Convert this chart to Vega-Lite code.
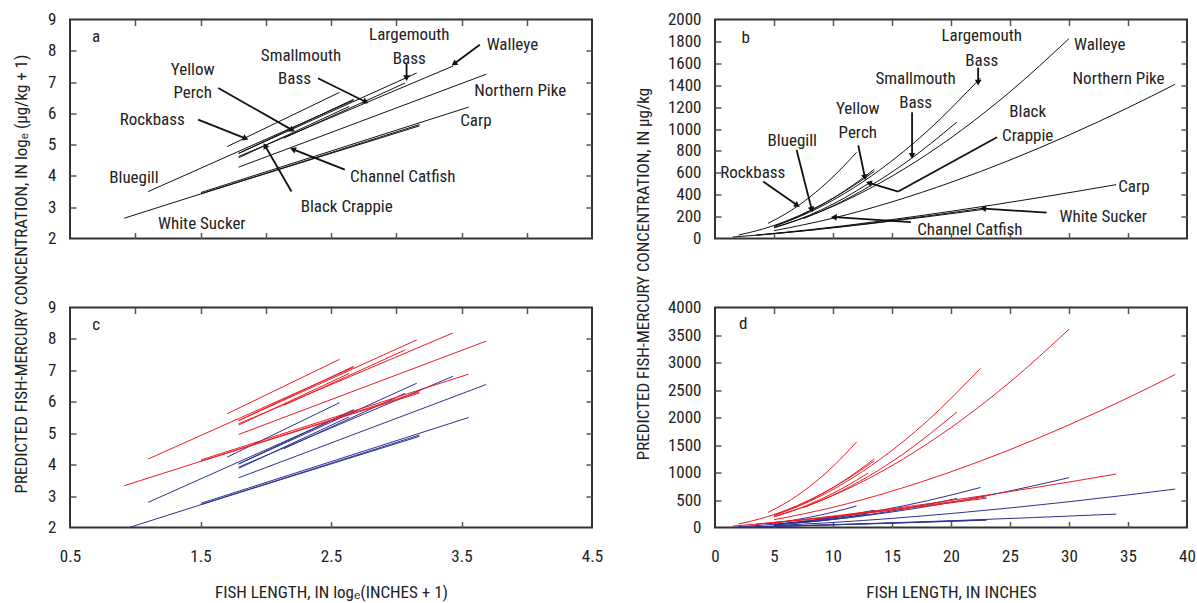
{
"$schema":"https://vega.github.io/schema/vega-lite/v6.json",
"padding":{"left":10,"top":9.5,"right":5,"bottom":5},
"config":{
 "font":"Liberation Sans Narrow, Roboto Condensed, Liberation Sans, sans-serif",
 "view":{"stroke":"#333","strokeWidth":2},
 "axis":{"labelFontSize":17,"labelColor":"#222","titleFontSize":17,"titleFontWeight":"normal","titleColor":"#222","grid":false,"domain":false,"tickColor":"#555","tickWidth":1.5,"labelFlush":false,"labelOverlap":false},
 "text":{"fontSize":17,"color":"#222"}
},
"datasets":{
 "aLines":[{"sp":"RB","x":1.705,"y":4.94},{"sp":"RB","x":2.565,"y":6.67},{"sp":"BG","x":1.099,"y":3.5},{"sp":"BG","x":2.674,"y":6.42},{"sp":"YP","x":1.792,"y":4.72},{"sp":"YP","x":2.674,"y":6.45},{"sp":"BC","x":1.792,"y":4.58},{"sp":"BC","x":2.639,"y":6.22},{"sp":"SM","x":2.14,"y":5.21},{"sp":"SM","x":3.068,"y":6.97},{"sp":"LM","x":1.792,"y":4.72},{"sp":"LM","x":3.157,"y":7.29},{"sp":"WE","x":1.792,"y":4.62},{"sp":"WE","x":3.434,"y":7.51},{"sp":"NP","x":1.792,"y":4.28},{"sp":"NP","x":3.689,"y":7.25},{"sp":"CP","x":1.504,"y":3.47},{"sp":"CP","x":3.555,"y":6.2},{"sp":"WS","x":0.916,"y":2.65},{"sp":"WS","x":3.178,"y":5.64},{"sp":"CC","x":1.504,"y":3.43},{"sp":"CC","x":3.178,"y":5.6}],
 "cLines":[
  {"sp":"RB","g":"b","x":1.705,"y":4.24},{"sp":"RB","g":"b","x":2.565,"y":5.97},
  {"sp":"BG","g":"b","x":1.099,"y":2.8},{"sp":"BG","g":"b","x":2.674,"y":5.72},
  {"sp":"YP","g":"b","x":1.792,"y":4.02},{"sp":"YP","g":"b","x":2.674,"y":5.75},
  {"sp":"BC","g":"b","x":1.792,"y":3.88},{"sp":"BC","g":"b","x":2.639,"y":5.52},
  {"sp":"SM","g":"b","x":2.14,"y":4.51},{"sp":"SM","g":"b","x":3.068,"y":6.27},
  {"sp":"LM","g":"b","x":1.792,"y":4.02},{"sp":"LM","g":"b","x":3.157,"y":6.59},
  {"sp":"WE","g":"b","x":1.792,"y":3.92},{"sp":"WE","g":"b","x":3.434,"y":6.81},
  {"sp":"NP","g":"b","x":1.792,"y":3.58},{"sp":"NP","g":"b","x":3.689,"y":6.55},
  {"sp":"CP","g":"b","x":1.504,"y":2.77},{"sp":"CP","g":"b","x":3.555,"y":5.5},
  {"sp":"WS","g":"b","x":0.916,"y":1.95},{"sp":"WS","g":"b","x":3.178,"y":4.94},
  {"sp":"CC","g":"b","x":1.504,"y":2.73},{"sp":"CC","g":"b","x":3.178,"y":4.9},
  {"sp":"RB","g":"r","x":1.705,"y":5.62},{"sp":"RB","g":"r","x":2.565,"y":7.35},
  {"sp":"BG","g":"r","x":1.099,"y":4.18},{"sp":"BG","g":"r","x":2.674,"y":7.1},
  {"sp":"YP","g":"r","x":1.792,"y":5.4},{"sp":"YP","g":"r","x":2.674,"y":7.13},
  {"sp":"BC","g":"r","x":1.792,"y":5.26},{"sp":"BC","g":"r","x":2.639,"y":6.9},
  {"sp":"SM","g":"r","x":2.14,"y":5.89},{"sp":"SM","g":"r","x":3.068,"y":7.65},
  {"sp":"LM","g":"r","x":1.792,"y":5.4},{"sp":"LM","g":"r","x":3.157,"y":7.97},
  {"sp":"WE","g":"r","x":1.792,"y":5.3},{"sp":"WE","g":"r","x":3.434,"y":8.19},
  {"sp":"NP","g":"r","x":1.792,"y":4.96},{"sp":"NP","g":"r","x":3.689,"y":7.93},
  {"sp":"CP","g":"r","x":1.504,"y":4.15},{"sp":"CP","g":"r","x":3.555,"y":6.88},
  {"sp":"WS","g":"r","x":0.916,"y":3.33},{"sp":"WS","g":"r","x":3.178,"y":6.32},
  {"sp":"CC","g":"r","x":1.504,"y":4.11},{"sp":"CC","g":"r","x":3.178,"y":6.28}],
 "bCurves":[
  {"sp":"RB","L":4.5,"v":138.8},{"sp":"RB","L":6,"v":226},{"sp":"RB","L":8,"v":375.5},{"sp":"RB","L":10,"v":563},{"sp":"RB","L":12,"v":787},
  {"sp":"BG","L":2,"v":32.1},{"sp":"BG","L":4,"v":84.4},{"sp":"BG","L":6,"v":158.3},{"sp":"BG","L":8,"v":252.9},{"sp":"BG","L":10,"v":367.3},{"sp":"BG","L":12,"v":500.9},{"sp":"BG","L":13.5,"v":613.6},
  {"sp":"YP","L":5,"v":111.2},{"sp":"YP","L":7,"v":196.2},{"sp":"YP","L":9,"v":304.5},{"sp":"YP","L":11,"v":436},{"sp":"YP","L":13.5,"v":632.3},
  {"sp":"BC","L":5,"v":96.5},{"sp":"BC","L":7,"v":169.2},{"sp":"BC","L":9,"v":261.2},{"sp":"BC","L":11,"v":372.1},{"sp":"BC","L":13,"v":501.7},
  {"sp":"SM","L":7.5,"v":182.1},{"sp":"SM","L":10,"v":297.6},{"sp":"SM","L":13,"v":471},{"sp":"SM","L":16,"v":681},{"sp":"SM","L":20.5,"v":1063.2},
  {"sp":"LM","L":5,"v":111.2},{"sp":"LM","L":8,"v":239.6},{"sp":"LM","L":11,"v":412.6},{"sp":"LM","L":14,"v":628.6},{"sp":"LM","L":18,"v":981.4},{"sp":"LM","L":22.5,"v":1466.1},
  {"sp":"WE","L":5,"v":100.5},{"sp":"WE","L":9,"v":248.4},{"sp":"WE","L":13,"v":449.8},{"sp":"WE","L":17,"v":701},{"sp":"WE","L":21,"v":998.2},{"sp":"WE","L":25,"v":1339.7},{"sp":"WE","L":30,"v":1825.2},
  {"sp":"NP","L":5,"v":71.2},{"sp":"NP","L":10,"v":185.6},{"sp":"NP","L":15,"v":334.6},{"sp":"NP","L":20,"v":512.9},{"sp":"NP","L":25,"v":716.7},{"sp":"NP","L":30,"v":944.8},{"sp":"NP","L":35,"v":1194.1},{"sp":"NP","L":39,"v":1408.5},
  {"sp":"CP","L":3.5,"v":31.1},{"sp":"CP","L":8,"v":79.8},{"sp":"CP","L":14,"v":158.6},{"sp":"CP","L":20,"v":248.6},{"sp":"CP","L":27,"v":365.1},{"sp":"CP","L":34,"v":491.8},
  {"sp":"WS","L":1.5,"v":13.2},{"sp":"WS","L":4,"v":34.4},{"sp":"WS","L":8,"v":75.9},{"sp":"WS","L":12,"v":124.1},{"sp":"WS","L":17,"v":191.5},{"sp":"WS","L":23,"v":280.5},
  {"sp":"CC","L":3.5,"v":29.9},{"sp":"CC","L":8,"v":74.8},{"sp":"CC","L":13,"v":133.4},{"sp":"CC","L":18,"v":198.7},{"sp":"CC","L":23,"v":269.4}],
 "dCurves":[
  {"sp":"RB","g":"b","L":4.5,"v":68.4},{"sp":"RB","g":"b","L":6,"v":111.7},{"sp":"RB","g":"b","L":8,"v":186},{"sp":"RB","g":"b","L":10,"v":279},{"sp":"RB","g":"b","L":12,"v":390.5},
  {"sp":"BG","g":"b","L":2,"v":15.45},{"sp":"BG","g":"b","L":4,"v":41.4},{"sp":"BG","g":"b","L":6,"v":78.1},{"sp":"BG","g":"b","L":8,"v":125.1},{"sp":"BG","g":"b","L":10,"v":181.9},{"sp":"BG","g":"b","L":12,"v":248.2},{"sp":"BG","g":"b","L":13.5,"v":304.2},
  {"sp":"YP","g":"b","L":5,"v":54.7},{"sp":"YP","g":"b","L":7,"v":96.9},{"sp":"YP","g":"b","L":9,"v":150.7},{"sp":"YP","g":"b","L":11,"v":216},{"sp":"YP","g":"b","L":13.5,"v":313.5},
  {"sp":"BC","g":"b","L":5,"v":47.4},{"sp":"BC","g":"b","L":7,"v":83.5},{"sp":"BC","g":"b","L":9,"v":129.2},{"sp":"BC","g":"b","L":11,"v":184.3},{"sp":"BC","g":"b","L":13,"v":248.6},
  {"sp":"SM","g":"b","L":7.5,"v":89.9},{"sp":"SM","g":"b","L":10,"v":147.3},{"sp":"SM","g":"b","L":13,"v":233.4},{"sp":"SM","g":"b","L":16,"v":337.7},{"sp":"SM","g":"b","L":20.5,"v":527.5},
  {"sp":"LM","g":"b","L":5,"v":54.7},{"sp":"LM","g":"b","L":8,"v":118.5},{"sp":"LM","g":"b","L":11,"v":204.4},{"sp":"LM","g":"b","L":14,"v":311.7},{"sp":"LM","g":"b","L":18,"v":486.9},{"sp":"LM","g":"b","L":22.5,"v":727.6},
  {"sp":"WE","g":"b","L":5,"v":49.4},{"sp":"WE","g":"b","L":9,"v":122.9},{"sp":"WE","g":"b","L":13,"v":222.9},{"sp":"WE","g":"b","L":17,"v":347.6},{"sp":"WE","g":"b","L":21,"v":495.2},{"sp":"WE","g":"b","L":25,"v":664.8},{"sp":"WE","g":"b","L":30,"v":905.9},
  {"sp":"NP","g":"b","L":5,"v":34.9},{"sp":"NP","g":"b","L":10,"v":91.7},{"sp":"NP","g":"b","L":15,"v":165.7},{"sp":"NP","g":"b","L":20,"v":254.2},{"sp":"NP","g":"b","L":25,"v":355.4},{"sp":"NP","g":"b","L":30,"v":468.7},{"sp":"NP","g":"b","L":35,"v":592.5},{"sp":"NP","g":"b","L":39,"v":699},
  {"sp":"CP","g":"b","L":3.5,"v":15},{"sp":"CP","g":"b","L":8,"v":39.1},{"sp":"CP","g":"b","L":14,"v":78.3},{"sp":"CP","g":"b","L":20,"v":123},{"sp":"CP","g":"b","L":27,"v":180.8},{"sp":"CP","g":"b","L":34,"v":243.7},
  {"sp":"WS","g":"b","L":1.5,"v":6},{"sp":"WS","g":"b","L":4,"v":16.6},{"sp":"WS","g":"b","L":8,"v":37.2},{"sp":"WS","g":"b","L":12,"v":61.1},{"sp":"WS","g":"b","L":17,"v":94.6},{"sp":"WS","g":"b","L":23,"v":138.8},
  {"sp":"CC","g":"b","L":3.5,"v":14.3},{"sp":"CC","g":"b","L":8,"v":36.6},{"sp":"CC","g":"b","L":13,"v":65.7},{"sp":"CC","g":"b","L":18,"v":98.2},{"sp":"CC","g":"b","L":23,"v":133.3},
  {"sp":"RB","g":"r","L":4.5,"v":275},{"sp":"RB","g":"r","L":6,"v":447},{"sp":"RB","g":"r","L":8,"v":742},{"sp":"RB","g":"r","L":10,"v":1111},{"sp":"RB","g":"r","L":12,"v":1555},
  {"sp":"BG","g":"r","L":2,"v":64.4},{"sp":"BG","g":"r","L":4,"v":167.5},{"sp":"BG","g":"r","L":6,"v":313.5},{"sp":"BG","g":"r","L":8,"v":500.2},{"sp":"BG","g":"r","L":10,"v":726},{"sp":"BG","g":"r","L":12,"v":989.8},{"sp":"BG","g":"r","L":13.5,"v":1212},
  {"sp":"YP","g":"r","L":5,"v":220.4},{"sp":"YP","g":"r","L":7,"v":388.2},{"sp":"YP","g":"r","L":9,"v":602.1},{"sp":"YP","g":"r","L":11,"v":861.6},{"sp":"YP","g":"r","L":13.5,"v":1249.1},
  {"sp":"BC","g":"r","L":5,"v":191.5},{"sp":"BC","g":"r","L":7,"v":335},{"sp":"BC","g":"r","L":9,"v":516.6},{"sp":"BC","g":"r","L":11,"v":735.5},{"sp":"BC","g":"r","L":13,"v":991.3},
  {"sp":"SM","g":"r","L":7.5,"v":360.4},{"sp":"SM","g":"r","L":10,"v":588.4},{"sp":"SM","g":"r","L":13,"v":930.7},{"sp":"SM","g":"r","L":16,"v":1345.3},{"sp":"SM","g":"r","L":20.5,"v":2099.7},
  {"sp":"LM","g":"r","L":5,"v":220.4},{"sp":"LM","g":"r","L":8,"v":473.9},{"sp":"LM","g":"r","L":11,"v":815.4},{"sp":"LM","g":"r","L":14,"v":1241.8},{"sp":"LM","g":"r","L":18,"v":1938.3},{"sp":"LM","g":"r","L":22.5,"v":2895.1},
  {"sp":"WE","g":"r","L":5,"v":199.3},{"sp":"WE","g":"r","L":9,"v":491.3},{"sp":"WE","g":"r","L":13,"v":888.9},{"sp":"WE","g":"r","L":17,"v":1384.7},{"sp":"WE","g":"r","L":21,"v":1971.4},{"sp":"WE","g":"r","L":25,"v":2645.5},{"sp":"WE","g":"r","L":30,"v":3603.9},
  {"sp":"NP","g":"r","L":5,"v":141.6},{"sp":"NP","g":"r","L":10,"v":367.3},{"sp":"NP","g":"r","L":15,"v":661.5},{"sp":"NP","g":"r","L":20,"v":1013.4},{"sp":"NP","g":"r","L":25,"v":1415.7},{"sp":"NP","g":"r","L":30,"v":1866},{"sp":"NP","g":"r","L":35,"v":2358.1},{"sp":"NP","g":"r","L":39,"v":2781.3},
  {"sp":"CP","g":"r","L":3.5,"v":62.4},{"sp":"CP","g":"r","L":8,"v":158.6},{"sp":"CP","g":"r","L":14,"v":314.1},{"sp":"CP","g":"r","L":20,"v":491.7},{"sp":"CP","g":"r","L":27,"v":721.7},{"sp":"CP","g":"r","L":34,"v":971.8},
  {"sp":"WS","g":"r","L":1.5,"v":26.9},{"sp":"WS","g":"r","L":4,"v":68.8},{"sp":"WS","g":"r","L":8,"v":150.9},{"sp":"WS","g":"r","L":12,"v":245.9},{"sp":"WS","g":"r","L":17,"v":379},{"sp":"WS","g":"r","L":23,"v":554.7},
  {"sp":"CC","g":"r","L":3.5,"v":60},{"sp":"CC","g":"r","L":8,"v":148.6},{"sp":"CC","g":"r","L":13,"v":264.3},{"sp":"CC","g":"r","L":18,"v":393.2},{"sp":"CC","g":"r","L":23,"v":532.8}],
 "aText":[{"t":"a","x":0.7,"y":8.45},{"t":"Largemouth","x":3.1,"y":8.52},{"t":"Bass","x":3.1,"y":7.74},{"t":"Walleye","x":3.89,"y":8.17},{"t":"Smallmouth","x":2.27,"y":7.83},{"t":"Bass","x":2.22,"y":7.1},{"t":"Yellow","x":1.44,"y":7.38},{"t":"Perch","x":1.44,"y":6.65},{"t":"Rockbass","x":1.13,"y":5.79},{"t":"Northern Pike","x":3.95,"y":6.71},{"t":"Carp","x":3.61,"y":5.75},{"t":"Channel Catfish","x":3.05,"y":3.95},{"t":"Black Crappie","x":2.62,"y":3.01},{"t":"Bluegill","x":0.99,"y":3.93},{"t":"White Sucker","x":1.51,"y":2.45}],
 "aArrows":[{"x":3.64,"y":8.19,"x2":3.449,"y2":7.6,"ang":-126.6,"head":true},{"x":3.079,"y":7.6,"x2":3.079,"y2":7.16,"ang":180,"head":true},{"x":2.4,"y":7.12,"x2":2.76,"y2":6.38,"ang":116.3,"head":true},{"x":1.636,"y":6.81,"x2":2.197,"y2":5.48,"ang":119.6,"head":true},{"x":1.482,"y":5.8,"x2":1.839,"y2":5.21,"ang":111.7,"head":true},{"x":2.197,"y":3.5,"x2":1.998,"y2":4.94,"ang":-30,"head":true},{"x":2.606,"y":4.2,"x2":2.215,"y2":4.84,"ang":-68.6,"head":true}],
 "bText":[{"t":"b","x":2.6,"y":1833},{"t":"Largemouth","x":22.6,"y":1848},{"t":"Bass","x":22.6,"y":1621},{"t":"Walleye","x":32.6,"y":1765},{"t":"Northern Pike","x":34.2,"y":1455},{"t":"Smallmouth","x":17,"y":1455},{"t":"Bass","x":17,"y":1242},{"t":"Yellow","x":12.1,"y":1182},{"t":"Perch","x":12.1,"y":966},{"t":"Black","x":26.5,"y":1152},{"t":"Crappie","x":26.5,"y":939},{"t":"Bluegill","x":6.55,"y":890},{"t":"Rockbass","x":3.2,"y":595},{"t":"Carp","x":35.5,"y":470},{"t":"White Sucker","x":32.9,"y":197},{"t":"Channel Catfish","x":21.6,"y":76}],
 "bArrows":[{"x":22.3,"y":1561,"x2":22.3,"y2":1433,"ang":180,"head":true},{"x":16.7,"y":1152,"x2":16.7,"y2":764,"ang":180,"head":true},{"x":12.14,"y":850,"x2":12.69,"y2":566,"ang":169,"head":true},{"x":23.9,"y":924,"x2":15.53,"y2":429,"ang":0,"head":false},{"x":15.53,"y":429,"x2":13.12,"y2":505,"ang":-73.7,"head":true},{"x":6.91,"y":810,"x2":8.18,"y2":271,"ang":165.7,"head":true},{"x":4.08,"y":520,"x2":6.91,"y2":308,"ang":124.8,"head":true},{"x":28.1,"y":236,"x2":22.8,"y2":273,"ang":-86.3,"head":true},{"x":16.6,"y":150,"x2":10.15,"y2":194.5,"ang":-86.3,"head":true}],
 "cText":[{"t":"c","x":0.7,"y":8.44}],
 "dText":[{"t":"d","x":2.4,"y":3700}]
},
"columns":2,
"spacing":{"row":69,"column":123},
"bounds":"flush",
"concat":[
  {"width":522,"height":219,
   "layer":[
    {"data":{"name":"aLines"},"mark":{"type":"line","color":"#111","strokeWidth":1,"clip":true},
     "encoding":{"x":{"field":"x","type":"quantitative","scale":{"domain":[0.5,4.5],"nice":false,"zero":false},"axis":null},
      "y":{"field":"y","type":"quantitative","scale":{"domain":[2,9],"nice":false,"zero":false},"axis":{"orient":"left","values":[2,3,4,5,6,7,8,9],"format":"d","ticks":false,"labelPadding":14,"title":"PREDICTED FISH-MERCURY CONCENTRATION, IN logₑ (μg/kg + 1)","titleX":-44,"titleY":254,"titleAngle":270,"titleAlign":"center","titleBaseline":"alphabetic"}},
      "detail":{"field":"sp"}}},
    {"data":{"name":"aLines"},"mark":{"type":"point","opacity":0},
     "encoding":{"x":{"field":"x","type":"quantitative","axis":{"orient":"bottom","offset":-6,"tickSize":6,"labels":false,"values":[1,1.5,2,2.5,3,3.5,4],"title":null}},
      "y":{"field":"y","type":"quantitative","axis":{"orient":"left","offset":-6,"tickSize":6,"labels":false,"values":[3,4,5,6,7,8],"title":null}}}},
    {"data":{"name":"aLines"},"mark":{"type":"point","opacity":0},
     "encoding":{"x":{"field":"x","type":"quantitative","axis":{"orient":"top","offset":-6,"tickSize":6,"labels":false,"values":[1,1.5,2,2.5,3,3.5,4],"title":null}},
      "y":{"field":"y","type":"quantitative","axis":{"orient":"right","offset":-6,"tickSize":6,"labels":false,"values":[3,4,5,6,7,8],"title":null}}}},
    {"data":{"name":"aText"},"mark":{"type":"text","align":"center","baseline":"middle"},
     "encoding":{"x":{"field":"x","type":"quantitative","axis":null},"y":{"field":"y","type":"quantitative","axis":null},"text":{"field":"t"}}},
    {"data":{"name":"aArrows"},"mark":{"type":"rule","strokeWidth":1.8,"color":"#111"},
     "encoding":{"x":{"field":"x","type":"quantitative","axis":null},"y":{"field":"y","type":"quantitative","axis":null},"x2":{"field":"x2"},"y2":{"field":"y2"}}},
    {"data":{"name":"aArrows"},"transform":[{"filter":"datum.head"}],"mark":{"type":"point","shape":"triangle","filled":true,"size":45,"color":"#111","opacity":1},
     "encoding":{"x":{"field":"x2","type":"quantitative","axis":null},"y":{"field":"y2","type":"quantitative","axis":null},"angle":{"field":"ang","type":"quantitative","scale":null}}}
   ],
   "resolve":{"axis":{"x":"independent","y":"independent"}}},
  {"width":472,"height":219,
   "layer":[
    {"data":{"name":"bCurves"},"mark":{"type":"line","color":"#111","strokeWidth":1,"interpolate":"monotone","clip":true},
     "encoding":{"x":{"field":"L","type":"quantitative","scale":{"domain":[0,40],"nice":false,"zero":false},"axis":null},
      "y":{"field":"v","type":"quantitative","scale":{"domain":[0,2000],"nice":false},"axis":{"orient":"left","values":[0,200,400,600,800,1000,1200,1400,1600,1800,2000],"format":"d","ticks":false,"labelPadding":14,"title":"PREDICTED FISH-MERCURY CONCENTRATION, IN μg/kg","titleX":-67,"titleY":254,"titleAngle":270,"titleAlign":"center","titleBaseline":"alphabetic"}},
      "detail":{"field":"sp"}}},
    {"data":{"name":"bCurves"},"mark":{"type":"point","opacity":0},
     "encoding":{"x":{"field":"L","type":"quantitative","axis":{"orient":"bottom","offset":-6,"tickSize":6,"labels":false,"values":[5,10,15,20,25,30,35],"title":null}},
      "y":{"field":"v","type":"quantitative","axis":{"orient":"left","offset":-6,"tickSize":6,"labels":false,"values":[200,400,600,800,1000,1200,1400,1600,1800],"title":null}}}},
    {"data":{"name":"bCurves"},"mark":{"type":"point","opacity":0},
     "encoding":{"x":{"field":"L","type":"quantitative","axis":{"orient":"top","offset":-6,"tickSize":6,"labels":false,"values":[5,10,15,20,25,30,35],"title":null}},
      "y":{"field":"v","type":"quantitative","axis":{"orient":"right","offset":-6,"tickSize":6,"labels":false,"values":[200,400,600,800,1000,1200,1400,1600,1800],"title":null}}}},
    {"data":{"name":"bText"},"mark":{"type":"text","align":"center","baseline":"middle"},
     "encoding":{"x":{"field":"x","type":"quantitative","axis":null},"y":{"field":"y","type":"quantitative","axis":null},"text":{"field":"t"}}},
    {"data":{"name":"bArrows"},"mark":{"type":"rule","strokeWidth":1.8,"color":"#111"},
     "encoding":{"x":{"field":"x","type":"quantitative","axis":null},"y":{"field":"y","type":"quantitative","axis":null},"x2":{"field":"x2"},"y2":{"field":"y2"}}},
    {"data":{"name":"bArrows"},"transform":[{"filter":"datum.head"}],"mark":{"type":"point","shape":"triangle","filled":true,"size":45,"color":"#111","opacity":1},
     "encoding":{"x":{"field":"x2","type":"quantitative","axis":null},"y":{"field":"y2","type":"quantitative","axis":null},"angle":{"field":"ang","type":"quantitative","scale":null}}}
   ],
   "resolve":{"axis":{"x":"independent","y":"independent"}}},
  {"width":522,"height":220,
   "layer":[
    {"data":{"name":"cLines"},"mark":{"type":"line","strokeWidth":1,"clip":true},
     "encoding":{"x":{"field":"x","type":"quantitative","scale":{"domain":[0.5,4.5],"nice":false,"zero":false},"axis":{"orient":"bottom","values":[0.5,1.5,2.5,3.5,4.5],"format":".1f","ticks":false,"labelPadding":21,"title":"FISH LENGTH, IN logₑ(INCHES + 1)","titleY":70,"titleBaseline":"alphabetic"}},
      "y":{"field":"y","type":"quantitative","scale":{"domain":[2,9],"nice":false,"zero":false},"axis":{"orient":"left","values":[2,3,4,5,6,7,8,9],"format":"d","ticks":false,"labelPadding":14,"title":null}},
      "color":{"field":"g","type":"nominal","scale":{"domain":["r","b"],"range":["#ed1c24","#2e3192"]},"legend":null},
      "detail":{"field":"sp"}}},
    {"data":{"name":"cLines"},"mark":{"type":"point","opacity":0},
     "encoding":{"x":{"field":"x","type":"quantitative","axis":{"orient":"bottom","offset":-6,"tickSize":6,"labels":false,"values":[1.5,2.5,3.5],"title":null}},
      "y":{"field":"y","type":"quantitative","axis":{"orient":"left","offset":-6,"tickSize":6,"labels":false,"values":[3,4,5,6,7,8],"title":null}}}},
    {"data":{"name":"cLines"},"mark":{"type":"point","opacity":0},
     "encoding":{"x":{"field":"x","type":"quantitative","axis":{"orient":"top","offset":-6,"tickSize":6,"labels":false,"values":[1,1.5,2,2.5,3,3.5,4],"title":null}},
      "y":{"field":"y","type":"quantitative","axis":{"orient":"right","offset":-6,"tickSize":6,"labels":false,"values":[3,4,5,6,7,8],"title":null}}}},
    {"data":{"name":"cText"},"mark":{"type":"text","align":"center","baseline":"middle"},
     "encoding":{"x":{"field":"x","type":"quantitative","axis":null},"y":{"field":"y","type":"quantitative","axis":null},"text":{"field":"t"}}}
   ],
   "resolve":{"axis":{"x":"independent","y":"independent"}}},
  {"width":472,"height":220,
   "layer":[
    {"data":{"name":"dCurves"},"mark":{"type":"line","strokeWidth":1,"interpolate":"monotone","clip":true},
     "encoding":{"x":{"field":"L","type":"quantitative","scale":{"domain":[0,40],"nice":false,"zero":false},"axis":{"orient":"bottom","values":[0,5,10,15,20,25,30,35,40],"format":"d","ticks":false,"labelPadding":21,"title":"FISH LENGTH, IN INCHES","titleY":70,"titleBaseline":"alphabetic"}},
      "y":{"field":"v","type":"quantitative","scale":{"domain":[0,4000],"nice":false},"axis":{"orient":"left","values":[0,500,1000,1500,2000,2500,3000,3500,4000],"format":"d","ticks":false,"labelPadding":14,"title":null}},
      "color":{"field":"g","type":"nominal","scale":{"domain":["r","b"],"range":["#ed1c24","#2e3192"]},"legend":null},
      "detail":{"field":"sp"}}},
    {"data":{"name":"dCurves"},"mark":{"type":"point","opacity":0},
     "encoding":{"x":{"field":"L","type":"quantitative","axis":{"orient":"bottom","offset":-6,"tickSize":6,"labels":false,"values":[5,10,15,20,25,30,35],"title":null}},
      "y":{"field":"v","type":"quantitative","axis":{"orient":"left","offset":-6,"tickSize":6,"labels":false,"values":[500,1000,1500,2000,2500,3000,3500],"title":null}}}},
    {"data":{"name":"dCurves"},"mark":{"type":"point","opacity":0},
     "encoding":{"x":{"field":"L","type":"quantitative","axis":{"orient":"top","offset":-6,"tickSize":6,"labels":false,"values":[5,10,15,20,25,30,35],"title":null}},
      "y":{"field":"v","type":"quantitative","axis":{"orient":"right","offset":-6,"tickSize":6,"labels":false,"values":[500,1000,1500,2000,2500,3000,3500],"title":null}}}},
    {"data":{"name":"dText"},"mark":{"type":"text","align":"center","baseline":"middle"},
     "encoding":{"x":{"field":"x","type":"quantitative","axis":null},"y":{"field":"y","type":"quantitative","axis":null},"text":{"field":"t"}}}
   ],
   "resolve":{"axis":{"x":"independent","y":"independent"}}}
]
}
